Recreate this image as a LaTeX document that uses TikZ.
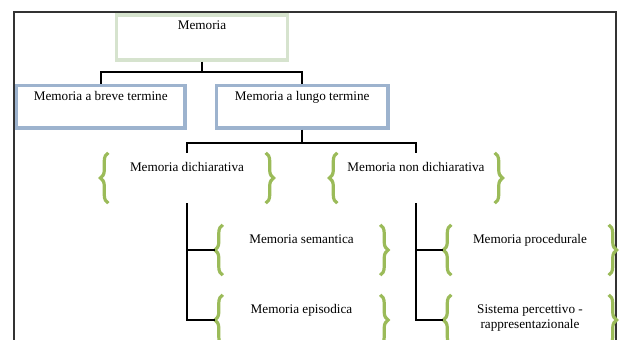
\documentclass[tikz,border=0pt]{standalone}
\usepackage{fontspec}
\setmainfont{Liberation Serif}
\usetikzlibrary{decorations.pathreplacing}
\definecolor{boxgreen}{RGB}{214,227,206}
\definecolor{boxblue}{RGB}{157,179,206}
\definecolor{bracegreen}{RGB}{155,187,89}
\tikzset{
  box/.style={draw, line width=3.6pt, fill=white, inner ysep=3pt},
  grp/.style={minimum width=157, inner ysep=4pt, text height=14pt, text depth=28pt, align=center},
  gbrace/.style={draw=bracegreen, line width=3.2pt, decorate, decoration={brace, amplitude=8pt}},
  link/.style={draw, line width=2.2pt}
}

\begin{document}
\begin{tikzpicture}[x=1pt, y=-1pt, font=\fontsize{13.2}{15}\selectfont]
\useasboundingbox (0,0) rectangle (619,340);
\draw[line width=2pt, black!80] (14,340) -- (14,12) -- (616,12) -- (616,340);

\node[box, draw=boxgreen, minimum width=171, text height=11pt, text depth=28pt] (mem) at (202,37.5) {Memoria};
\node[box, draw=boxblue, minimum width=168.5, text height=12pt, text depth=24.5pt] (breve) at (100.75,106.75) {Memoria a breve termine};
\node[box, draw=boxblue, minimum width=171.5, text height=12pt, text depth=24.5pt] (lungo) at (302.25,106.75) {Memoria a lungo termine};

\node[grp] (dich) at (187,178) {Memoria dichiarativa};
\node[grp] (nondich) at (416,178) {Memoria non dichiarativa};
\node[grp] (sem) at (301.5,250) {Memoria semantica};
\node[grp] (epi) at (301.5,320) {Memoria episodica};
\node[grp] (proc) at (530,250) {Memoria procedurale};
\node[grp, text height=29pt, text depth=13pt] (sist) at (530,320) {Sistema percettivo -\\rappresentazionale};

\foreach \g in {dich,nondich,sem,epi,proc,sist}{
  \draw[gbrace] (\g.south west) -- (\g.north west);
  \draw[gbrace] (\g.north east) -- (\g.south east);
}

\draw[link] (mem.south) -- ++(0,10) -| (breve.north);
\draw[link] (mem.south) -- ++(0,10) -| (lungo.north);
\draw[link] (lungo.south) -- ++(0,13) -| (dich.north);
\draw[link] (lungo.south) -- ++(0,13) -| (nondich.north);
\draw[link] (dich.south) |- ([xshift=-8pt]sem.west);
\draw[link] (dich.south) |- ([xshift=-8pt]epi.west);
\draw[link] (nondich.south) |- ([xshift=-8pt]proc.west);
\draw[link] (nondich.south) |- ([xshift=-8pt]sist.west);
\end{tikzpicture}
\end{document}
